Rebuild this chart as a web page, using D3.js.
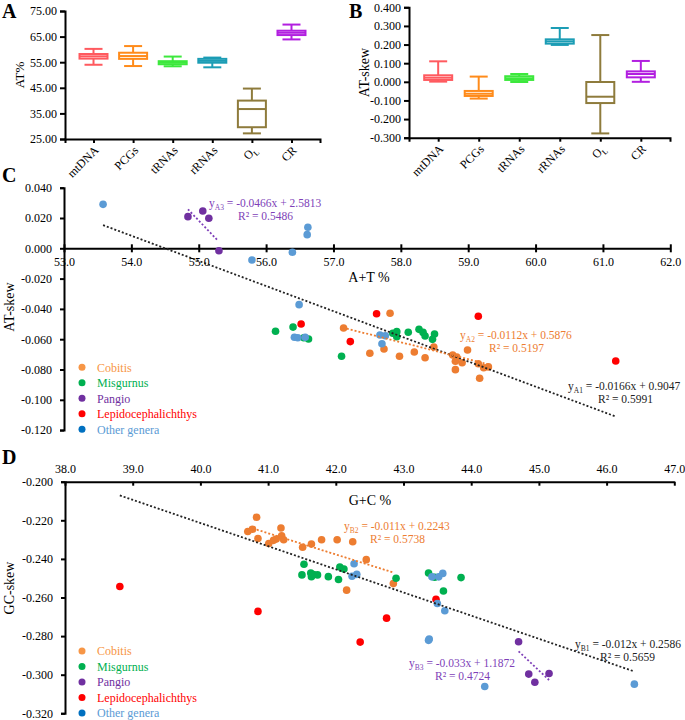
<!DOCTYPE html>
<html>
<head>
<meta charset="utf-8">
<script src="https://cdn.jsdelivr.net/npm/d3@7"></script>
<style>
body { margin: 0; background: #fff; }
svg { display: block; font-family: "Liberation Serif", "Times New Roman", serif; }
.axis path, .axis line { stroke: #000; stroke-width: 2; }
.axis text { font-size: 12px; fill: #000; font-family: "Liberation Serif", "Times New Roman", serif; }
</style>
</head>
<body>
<div id="chart"></div>
<script>

// ---- data ----
var categories = ["mtDNA", "PCGs", "tRNAs", "rRNAs", "OL", "CR"];
// [min, q1, median, q3, max]
var atPercent = [
    [54.0, 56.4, 57.3, 58.2, 60.2],
    [53.5, 56.3, 57.4, 58.7, 61.3],
    [53.4, 54.2, 54.8, 55.4, 57.2],
    [53.0, 54.8, 55.5, 56.3, 56.8],
    [27.2, 29.6, 36.7, 40.0, 44.7],
    [63.9, 65.6, 66.5, 67.3, 69.7]
];
var atSkew = [
    [0.001, 0.010, 0.022, 0.035, 0.110],
    [-0.090, -0.076, -0.064, -0.049, 0.028],
    [-0.001, 0.010, 0.019, 0.030, 0.042],
    [0.198, 0.205, 0.217, 0.228, 0.289],
    [-0.277, -0.114, -0.080, -0.001, 0.251],
    [0.000, 0.024, 0.042, 0.056, 0.112]
];
var atPercentTicks = [25, 35, 45, 55, 65, 75];
var atSkewTicks = [-0.3, -0.2, -0.1, 0, 0.1, 0.2, 0.3, 0.4];

var genera = ["Cobitis", "Misgurnus", "Pangio", "Lepidocephalichthys", "Other genera"];

// panel C: [A+T %, AT-skew]
var cobitisAT = [[57.15,-0.0526],[57.54,-0.0693],[57.84,-0.0429],[57.75,-0.0665],[57.98,-0.0713],
    [58.20,-0.0684],[58.36,-0.0722],[58.49,-0.0651],[58.99,-0.0671],[58.77,-0.0704],[58.83,-0.0717],
    [58.81,-0.0746],[58.91,-0.0755],[58.81,-0.0801],[59.15,-0.0762],[59.23,-0.0788],[59.30,-0.0783],
    [59.17,-0.0858]];
var misgurnusAT = [[56.14,-0.0548],[56.40,-0.0520],[56.56,-0.0590],[56.63,-0.0599],[57.12,-0.0713],
    [57.88,-0.0561],[57.94,-0.0550],[57.94,-0.0584],[58.11,-0.0554],[58.27,-0.0535],[58.33,-0.0555],
    [58.36,-0.0579],[58.50,-0.0566],[58.47,-0.0601]];
var pangioAT = [[54.84,0.0209],[55.06,0.0246],[55.15,0.0198],[55.30,-0.0016]];
var lepidoAT = [[56.52,-0.0500],[57.25,-0.0616],[57.64,-0.0432],[59.15,-0.0449],[61.19,-0.0744]];
var otherAT = [[53.58,0.0290],[55.79,-0.0077],[56.39,-0.0026],[56.62,0.0139],[56.61,0.0090],
    [56.49,-0.0372],[56.42,-0.0587],[56.47,-0.0590],[56.58,-0.0587],[57.69,-0.0572],[57.77,-0.0577],
    [57.72,-0.0630]];

// panel D: [G+C %, GC-skew]
var cobitisGC = [[40.83,-0.2184],[40.70,-0.2258],[40.77,-0.2246],[40.85,-0.2294],[41.01,-0.2320],
    [41.19,-0.2240],[41.12,-0.2297],[41.20,-0.2280],[41.23,-0.2301],[41.08,-0.2304],[41.51,-0.2340],
    [41.64,-0.2323],[41.79,-0.2301],[42.02,-0.2301],[42.25,-0.2311],[42.45,-0.2404],[42.85,-0.2528],
    [42.16,-0.2562]];
var misgurnusGC = [[41.53,-0.2428],[41.50,-0.2483],[41.63,-0.2473],[41.67,-0.2481],[41.73,-0.2483],
    [41.64,-0.2492],[41.89,-0.2492],[42.04,-0.2507],[42.06,-0.2442],[42.12,-0.2452],[42.89,-0.2500],
    [43.37,-0.2473],[43.46,-0.2495],[43.85,-0.2497],[43.59,-0.2566]];
var pangioGC = [[44.70,-0.2829],[44.85,-0.2997],[44.94,-0.3039],[45.15,-0.2994]];
var lepidoGC = [[38.81,-0.2543],[40.85,-0.2672],[42.36,-0.2831],[42.75,-0.2707],[43.48,-0.2609]];
var otherGC = [[42.27,-0.2425],[42.24,-0.2490],[42.31,-0.2480],[43.42,-0.2493],[43.52,-0.2493],
    [43.58,-0.2475],[43.50,-0.2631],[43.61,-0.2669],[43.38,-0.2815],[43.37,-0.2822],[44.20,-0.3061],
    [46.41,-0.3049]];

var atTicksX = [53, 54, 55, 56, 57, 58, 59, 60, 61, 62];
var atTicksY = [-0.12, -0.10, -0.08, -0.06, -0.04, -0.02, 0, 0.02, 0.04];
var gcTicksX = [38, 39, 40, 41, 42, 43, 44, 45, 46, 47];
var gcTicksY = [-0.32, -0.30, -0.28, -0.26, -0.24, -0.22, -0.20];

// linear fits: name, slope, intercept, R2, x-range
var fitsAT = [
    {name: "A1", slope: -0.0166, intercept: 0.9047, r2: "0.5991", from: 53.58, to: 61.19},
    {name: "A2", slope: -0.0112, intercept: 0.5876, r2: "0.5197", from: 57.14, to: 59.32},
    {name: "A3", slope: -0.0466, intercept: 2.5813, r2: "0.5486", from: 54.84, to: 55.29}
];
var fitsGC = [
    {name: "B1", slope: -0.012, intercept: 0.2586, r2: "0.5659", from: 38.81, to: 46.41},
    {name: "B2", slope: -0.011, intercept: 0.2243, r2: "0.5738", from: 40.72, to: 42.84},
    {name: "B3", slope: -0.033, intercept: 1.1872, r2: "0.4724", from: 44.70, to: 45.15}
];

// ---- styles ----
var boxColors = ["#ff5a5f", "#ff8b1a", "#3de83d", "#1c9db5", "#8e7b3c", "#b21fe0"];
var dotColors = {"Cobitis": "#ed7d31", "Misgurnus": "#00b050", "Pangio": "#7030a0",
    "Lepidocephalichthys": "#ff0000", "Other genera": "#5b9bd5"};
var legendDot = {"Cobitis": "#f79646", "Misgurnus": "#00b050", "Pangio": "#7030a0",
    "Lepidocephalichthys": "#ff0000", "Other genera": "#0070c0"};
var legendText = {"Cobitis": "#f79646", "Misgurnus": "#00b050", "Pangio": "#7030a0",
    "Lepidocephalichthys": "#ff0000", "Other genera": "#5b9bd5"};
var fitColors = {"A1": "#222", "A2": "#ed7d31", "A3": "#7e3fb8",
    "B1": "#222", "B2": "#ed7d31", "B3": "#7e3fb8"};

var svg = d3.select("#chart").append("svg")
    .attr("width", 685)
    .attr("height", 720);

function panelLetter(t, x, y) {
    svg.append("text").attr("x", x).attr("y", y)
        .style("font-size", "20px").style("font-weight", "bold").text(t);
}

function catLabel(g, d) {
    var t = g.append("text").attr("text-anchor", "end").style("font-size", "12px");
    if (d === "OL") {
        t.append("tspan").text("O");
        t.append("tspan").attr("dy", 3).style("font-size", "8px").text("L");
    } else {
        t.text(d);
    }
    return t;
}

// ---- box plot panel ----
function drawBoxPanel(x0, x1, y0, y1, domain, ticks, fmt, stats, title, titleX, titleSize) {
    var y = d3.scaleLinear().domain(domain).range([y1, y0]);
    var x = d3.scalePoint().domain(categories).range([x0, x1]).padding(0.72);
    var g = svg.append("g");

    g.append("g").attr("class", "axis")
        .attr("transform", "translate(" + x0 + ",0)")
        .call(d3.axisLeft(y).tickValues(ticks).tickFormat(fmt).tickSizeOuter(0).tickSize(5));

    g.append("g").attr("class", "axis")
        .attr("transform", "translate(0," + y1 + ")")
        .call(d3.axisBottom(x).tickFormat("").tickSizeOuter(0).tickSize(4));

    categories.forEach(function (d) {
        var lg = g.append("g")
            .attr("transform", "translate(" + (x(d) + 3) + "," + (y1 + 9) + ") rotate(-45)");
        catLabel(lg, d).attr("dy", "0.35em");
    });

    var box = g.selectAll(".box")
        .data(stats)
        .enter().append("g")
        .attr("transform", function (d, i) {
            return "translate(" + x(categories[i]) + ",0)";
        })
        .style("stroke", function (d, i) { return boxColors[i]; })
        .style("stroke-width", 2)
        .style("fill", "none");

    box.append("line").attr("x1", 0).attr("x2", 0)
        .attr("y1", function (d) { return y(d[4]); })
        .attr("y2", function (d) { return y(d[3]); });
    box.append("line").attr("x1", 0).attr("x2", 0)
        .attr("y1", function (d) { return y(d[1]); })
        .attr("y2", function (d) { return y(d[0]); });
    box.append("line").attr("x1", -9).attr("x2", 9)
        .attr("y1", function (d) { return y(d[4]); })
        .attr("y2", function (d) { return y(d[4]); });
    box.append("line").attr("x1", -9).attr("x2", 9)
        .attr("y1", function (d) { return y(d[0]); })
        .attr("y2", function (d) { return y(d[0]); });
    box.append("rect")
        .attr("x", -14).attr("width", 28)
        .attr("y", function (d) { return y(d[3]); })
        .attr("height", function (d) { return y(d[1]) - y(d[3]); })
        .style("fill", "#fff");
    box.append("line").attr("x1", -14).attr("x2", 14)
        .attr("y1", function (d) { return y(d[2]); })
        .attr("y2", function (d) { return y(d[2]); });

    svg.append("text")
        .attr("transform", "translate(" + titleX + "," + ((y0 + y1) / 2) + ") rotate(-90)")
        .attr("text-anchor", "middle")
        .style("font-size", titleSize)
        .text(title);
}

drawBoxPanel(65, 320, 11, 139, [25, 75], atPercentTicks, d3.format(".2f"), atPercent, "AT%", 24, "13px");
drawBoxPanel(409, 670, 7.3, 137.7, [-0.3, 0.4], atSkewTicks, function (d) { return d.toFixed(3); },
    atSkew, "AT-skew", 369, "14px");
panelLetter("A", 2, 18);
panelLetter("B", 349, 18);

// ---- scatter panels ----
function drawScatter(opt) {
    var x = d3.scaleLinear().domain(opt.xDomain).range(opt.xRange);
    var y = d3.scaleLinear().domain(opt.yDomain).range(opt.yRange);
    var g = svg.append("g");
    var axisY = opt.top ? opt.yRange[1] : y(0);

    var xAxis = (opt.top ? d3.axisTop(x) : d3.axisBottom(x))
        .tickValues(opt.xTicks).tickFormat(d3.format(".1f"))
        .tickSizeOuter(0).tickSize(0).tickPadding(9);
    var xg = g.append("g").attr("class", "axis")
        .attr("transform", "translate(0," + axisY + ")")
        .call(xAxis);
    xg.selectAll(".tick").append("line")
        .attr("y1", opt.top ? 0 : -4).attr("y2", 4);

    g.append("g").attr("class", "axis")
        .attr("transform", "translate(" + opt.xRange[0] + ",0)")
        .call(d3.axisLeft(y).tickValues(opt.yTicks)
            .tickFormat(function (d) { return d.toFixed(3); })
            .tickSizeOuter(0).tickSize(4).tickPadding(8));

    svg.append("text")
        .attr("x", opt.xTitle[0]).attr("y", opt.xTitle[1])
        .attr("text-anchor", "middle")
        .style("font-size", "14px")
        .text(opt.xLabel);
    svg.append("text")
        .attr("transform", "translate(" + opt.yTitle[0] + "," + opt.yTitle[1] + ") rotate(-90)")
        .attr("text-anchor", "middle")
        .style("font-size", "14px")
        .text(opt.yLabel);

    opt.series.forEach(function (s, i) {
        g.selectAll(".pt" + i)
            .data(s)
            .enter().append("circle")
            .attr("cx", function (d) { return x(d[0]); })
            .attr("cy", function (d) { return y(d[1]); })
            .attr("r", 3.8)
            .style("fill", dotColors[genera[i]]);
    });

    opt.fits.forEach(function (f) {
        g.append("line")
            .attr("x1", x(f.from)).attr("y1", y(f.slope * f.from + f.intercept))
            .attr("x2", x(f.to)).attr("y2", y(f.slope * f.to + f.intercept))
            .style("stroke", fitColors[f.name])
            .style("stroke-width", 1.8)
            .style("stroke-dasharray", "2,2");

        var p = opt.eqPos[f.name];
        var t = g.append("text").attr("x", p[0]).attr("y", p[1])
            .style("font-size", "11.5px").style("fill", fitColors[f.name]);
        t.append("tspan").text("y");
        t.append("tspan").attr("dy", 3).style("font-size", "7.5px").text(f.name);
        t.append("tspan").attr("dy", -3)
            .text(" = " + f.slope + "x + " + f.intercept);
        g.append("text").attr("x", p[2]).attr("y", p[1] + 13)
            .style("font-size", "11.5px").style("fill", fitColors[f.name])
            .text("R\u00b2 = " + f.r2);
    });

    var lg = g.append("g");
    genera.forEach(function (name, i) {
        var yy = opt.legendY + i * 15.5;
        lg.append("circle").attr("cx", 82).attr("cy", yy).attr("r", 3.5)
            .style("fill", legendDot[name]);
        lg.append("text").attr("x", 97).attr("y", yy).attr("dy", "0.35em")
            .style("font-size", "12px").style("fill", legendText[name])
            .text(name);
    });
}

drawScatter({
    xDomain: [53, 62], xRange: [64, 670.3],
    yDomain: [-0.12, 0.04], yRange: [430.1, 187.7],
    xTicks: atTicksX, yTicks: atTicksY, top: false,
    xLabel: "A+T %", xTitle: [369, 282],
    yLabel: "AT-skew", yTitle: [14, 307],
    series: [cobitisAT, misgurnusAT, pangioAT, lepidoAT, otherAT],
    fits: fitsAT,
    eqPos: {"A1": [568, 390, 598], "A2": [460, 339, 489], "A3": [209, 207, 238]},
    legendY: 367.3
});

drawScatter({
    xDomain: [38, 47], xRange: [65, 674.3],
    yDomain: [-0.32, -0.2], yRange: [713.3, 481.7],
    xTicks: gcTicksX, yTicks: gcTicksY, top: true,
    xLabel: "G+C %", xTitle: [370, 505],
    yLabel: "GC-skew", yTitle: [14, 588],
    series: [cobitisGC, misgurnusGC, pangioGC, lepidoGC, otherGC],
    fits: fitsGC,
    eqPos: {"B1": [575, 648, 600], "B2": [344, 530, 370], "B3": [409, 667, 435]},
    legendY: 651
});

panelLetter("C", 2, 182);
panelLetter("D", 2, 464);

</script>
</body>
</html>
